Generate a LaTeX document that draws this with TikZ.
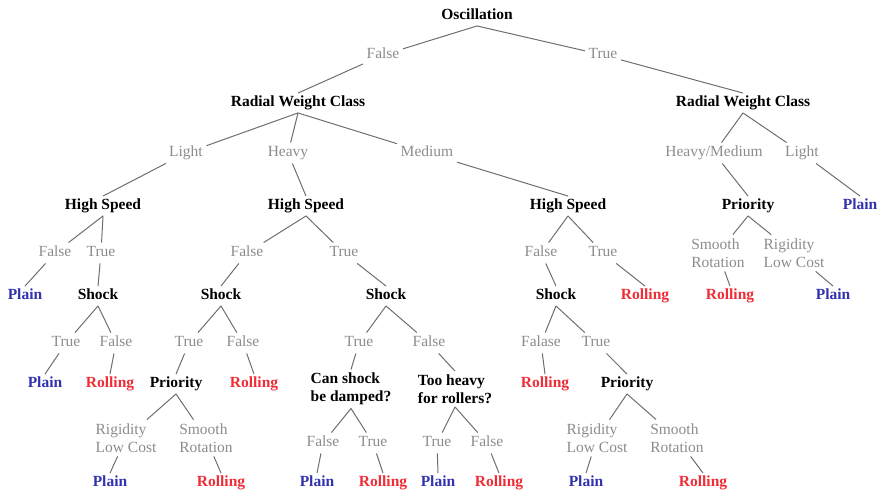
\documentclass[tikz,border=0pt]{standalone}
\usepackage{fontspec}
\setmainfont{Liberation Serif}
\usepackage{tikz}
\usetikzlibrary{positioning}
\definecolor{labgray}{RGB}{140,140,140}
\definecolor{edgegray}{RGB}{110,110,110}
\definecolor{plainblue}{RGB}{50,50,175}
\definecolor{rollred}{RGB}{240,45,55}
\tikzstyle{test} =[font=\fontsize{15.5}{18.5}\selectfont\bfseries, text height=10.5pt, text depth=3pt, inner sep=3pt]
\tikzstyle{testtwo} =[font=\fontsize{15.5}{18.5}\selectfont\bfseries, align=left, inner sep=3pt]
\tikzstyle{branch} =[font=\fontsize{15.5}{18.5}\selectfont, text=labgray, text height=10.5pt, text depth=3pt, inner sep=3.5pt]
\tikzstyle{branchtwo} =[font=\fontsize{15.5}{18.5}\selectfont, text=labgray, align=left, inner sep=3.5pt]
\tikzstyle{plainleaf} =[test, text=plainblue]
\tikzstyle{rollleaf} =[test, text=rollred]
\tikzstyle{edge} =[draw=edgegray, line width=1pt]

\begin{document}
\begin{tikzpicture}[x=1pt, y=-1pt]
					\useasboundingbox (0,-2) rectangle (879,489);
					\node [test] (osc) at (477,14) {Oscillation};
					\node [branch] (f1) at (383,53) {False};
					\node [branch] (t1) at (603,53) {True};
					\node [test] (rwcL) at (298,101) {Radial Weight Class};
					\node [test] (rwcR) at (743,101) {Radial Weight Class};
					\node [branch] (lightL) at (186,151) {Light};
					\node [branch] (heavyL) at (288,151) {Heavy};
					\node [branch] (mediumL) at (427,151) {Medium};
					\node [branch] (hmR) at (714,151) {Heavy/Medium};
					\node [branch] (lightR) at (802,151) {Light};
					\node [test] (hsA) at (103,204) {High Speed};
					\node [test] (hsB) at (306,204) {High Speed};
					\node [test] (hsC) at (568,204) {High Speed};
					\node [test] (priR) at (748,204) {Priority};
					\node [plainleaf] (plainR1) at (860,204) {Plain};
					\node [branch] (fA) at (55,251) {False};
					\node [branch] (tA) at (101,251) {True};
					\node [branch] (fB) at (247,251) {False};
					\node [branch] (tB) at (344,251) {True};
					\node [branch] (fE) at (541,251) {False};
					\node [branch] (tE) at (603,251) {True};
					\node [branchtwo] (srR) at (718,251) {Smooth\\Rotation};
					\node [branchtwo] (rlR) at (794,251) {Rigidity\\Low Cost};
					\node [plainleaf] (plainA) at (25,294) {Plain};
					\node [test] (shockA) at (98,294) {Shock};
					\node [test] (shockB) at (221,294) {Shock};
					\node [test] (shockC) at (386,294) {Shock};
					\node [test] (shockE) at (556,294) {Shock};
					\node [rollleaf] (rollE) at (645,294) {Rolling};
					\node [rollleaf] (rollR) at (730,294) {Rolling};
					\node [plainleaf] (plainR) at (833,294) {Plain};
					\node [branch] (tA2) at (66,341) {True};
					\node [branch] (fA2) at (116,341) {False};
					\node [branch] (tB2) at (189,341) {True};
					\node [branch] (fB2) at (243,341) {False};
					\node [branch] (tC) at (359,341) {True};
					\node [branch] (fC) at (429,341) {False};
					\node [branch] (faE) at (541,341) {Falase};
					\node [branch] (tE2) at (596,341) {True};
					\node [plainleaf] (plainA2) at (45,382) {Plain};
					\node [rollleaf] (rollA2) at (110,382) {Rolling};
					\node [test] (priB) at (176,382) {Priority};
					\node [rollleaf] (rollB) at (254,382) {Rolling};
					\node [testtwo] (canC) at (351,387) {Can shock\\be damped?};
					\node [testtwo] (tooC) at (455,387) {Too heavy\\for rollers?};
					\node [rollleaf] (rollE2) at (545,382) {Rolling};
					\node [test] (priE) at (627,382) {Priority};
					\node [branchtwo] (rlB) at (126,436) {Rigidity\\Low Cost};
					\node [branchtwo] (srB) at (206,436) {Smooth\\Rotation};
					\node [branch] (fC2) at (323,441) {False};
					\node [branch] (tC2) at (373,441) {True};
					\node [branch] (tD) at (437,441) {True};
					\node [branch] (fD) at (487,441) {False};
					\node [branchtwo] (rlE) at (597,436) {Rigidity\\Low Cost};
					\node [branchtwo] (srE) at (677,436) {Smooth\\Rotation};
					\node [plainleaf] (plainB) at (110,481) {Plain};
					\node [rollleaf] (rollB2) at (221,481) {Rolling};
					\node [plainleaf] (plainC) at (317,481) {Plain};
					\node [rollleaf] (rollC) at (383,481) {Rolling};
					\node [plainleaf] (plainD) at (438,481) {Plain};
					\node [rollleaf] (rollD) at (499,481) {Rolling};
					\node [plainleaf] (plainE) at (586,481) {Plain};
					\node [rollleaf] (rollE3) at (703,481) {Rolling};
					\foreach \p/\l/\c in {osc/f1/rwcL, osc/t1/rwcR, rwcL/lightL/hsA, rwcL/heavyL/hsB, rwcL/mediumL/hsC, rwcR/hmR/priR, rwcR/lightR/plainR1, hsA/fA/plainA, hsA/tA/shockA, shockA/tA2/plainA2, shockA/fA2/rollA2, hsB/fB/shockB, hsB/tB/shockC, shockB/tB2/priB, shockB/fB2/rollB, priB/rlB/plainB, priB/srB/rollB2, shockC/tC/canC, shockC/fC/tooC, canC/fC2/plainC, canC/tC2/rollC, tooC/tD/plainD, tooC/fD/rollD, hsC/fE/shockE, hsC/tE/rollE, shockE/faE/rollE2, shockE/tE2/priE, priE/rlE/plainE, priE/srE/rollE3, priR/srR/rollR, priR/rlR/plainR}
						{\draw [edge] (\p.south) -- (\l);
						\draw [edge] (\l) -- (\c.north);}
					\end{tikzpicture}
\end{document}
